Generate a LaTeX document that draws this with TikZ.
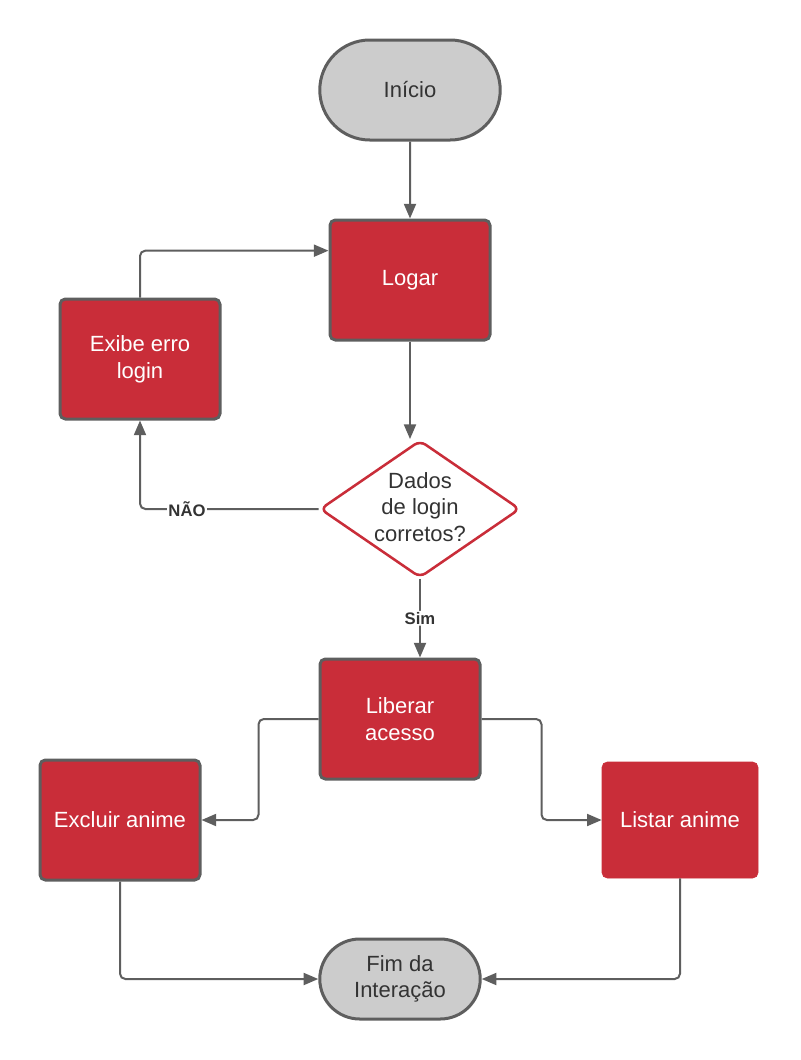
\documentclass[tikz,border=0pt]{standalone}
\usepackage{fontspec}
\setmainfont{Liberation Sans}
\usetikzlibrary{shapes.misc,shapes.geometric,arrows.meta}
\definecolor{vermelho}{HTML}{C92D39}
\definecolor{borda}{HTML}{5E5E5E}
\definecolor{cinza}{HTML}{CCCCCC}
\definecolor{texto}{HTML}{333333}
\begin{document}
\begin{tikzpicture}[x=0.75pt, y=-0.75pt, font=\fontsize{16.5}{20}\selectfont,
			terminal/.style={rounded rectangle, draw=borda, line width=2.25pt, fill=cinza, text=texto, align=center, minimum width=#1, minimum height=75pt},
			processo/.style={rectangle, rounded corners=4pt, draw=borda, line width=2.25pt, fill=vermelho, text=white, align=center, minimum width=120pt, minimum height=90pt},
			decisao/.style={diamond, rounded corners=5pt, draw=vermelho, line width=1.9pt, fill=white, minimum width=150pt, minimum height=103pt, inner sep=0pt},
			seta/.style={draw=borda, line width=1.5pt, rounded corners=4pt, -{Triangle[length=11pt,width=9pt]}},
			rotulo/.style={fill=white, text=texto, font=\fontsize{12.5}{14}\selectfont\bfseries, inner sep=1pt}]
			\useasboundingbox (0,0) rectangle (800,1060);
			\node[terminal=142pt] (inicio) at (410,90) {Início};
			\node[processo] (logar) at (410,280) {Logar};
			\node[processo] (erro) at (140,359) {Exibe erro\\login};
			\node[decisao] (dados) at (420,509) {};
			\node[text=texto, align=center] at (420,507) {Dados\\de login\\corretos?};
			\node[processo] (liberar) at (400,719) {Liberar\\acesso};
			\node[processo] (excluir) at (120,820) {Excluir anime};
			\node[processo, draw=vermelho, line width=0.5pt, minimum width=117pt, minimum height=87pt] (listar) at (680,820) {Listar anime};
			\node[terminal=127pt, minimum height=60pt] (fim) at (400,979) {Fim da\\Interação};
			\draw[seta] (inicio) -- (logar);
			\draw[seta] (logar.south) -- (logar.south |- dados.north);
			\draw[seta] (dados.west) -- (187,509) node[rotulo] {NÃO} -| (erro.south);
			\draw[seta] (erro.north) |- ([yshift=22pt]logar.west);
			\draw[seta] (dados.south) -- node[rotulo] {Sim} (dados.south |- liberar.north);
			\draw[seta] (liberar.west) -- ++(-60,0) |- (excluir.east);
			\draw[seta] (liberar.east) -- ++(60,0) |- (listar.west);
			\draw[seta] (excluir.south) |- (fim.west);
			\draw[seta] (listar.south) |- (fim.east);
		\end{tikzpicture}
\end{document}
